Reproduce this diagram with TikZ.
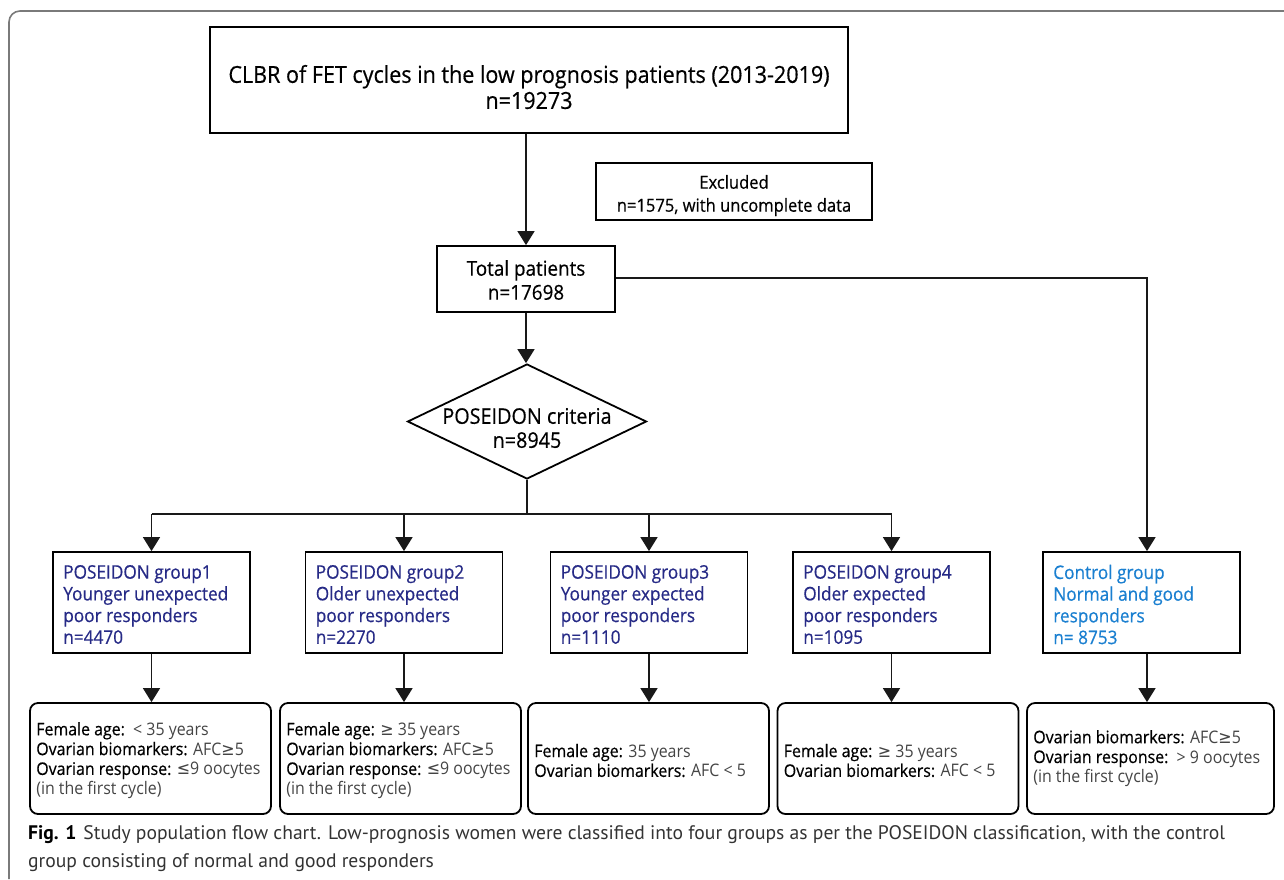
\documentclass[tikz,border=0pt]{standalone}
\usepackage{fontspec}
\setmainfont{Open Sans}[FakeStretch=0.92,FakeBold=0.5]
\newfontfamily\lightf{Open Sans}[FakeStretch=0.92]
\newfontfamily\capfont{PT Sans}
\newfontfamily\symf{DejaVu Sans}[FakeStretch=0.92]
\usetikzlibrary{arrows.meta,shapes.geometric}
\definecolor{navy}{HTML}{262A86}
\definecolor{ctrlblue}{HTML}{1A7FD0}
\definecolor{valgray}{HTML}{444444}
\definecolor{framegray}{HTML}{7A7A7A}
\definecolor{capgray}{HTML}{333333}
\newcommand\valtxt[1]{{\lightf\color{valgray}#1}}
\newcommand\gesym{{\symf ≥}}
\newcommand\lesym{{\symf ≤}}
\begin{document}
\begin{tikzpicture}[x=1pt,y=-1pt,
  box/.style={draw, line width=1.8pt, inner sep=0pt},
  gbox/.style={box, minimum width=197pt, minimum height=101pt},
  rbox/.style={box, rounded corners=8pt, minimum width=241pt, minimum height=111pt},
  conn/.style={line width=1.5pt, color=black!90},
  arr/.style={conn, -{Triangle[width=17pt,length=14pt]}},
  ttext/.style={inner sep=0pt, align=center, font=\fontsize{23.4}{26}\selectfont},
  mtext/.style={inner sep=0pt, align=center, font=\fontsize{20.5}{24}\selectfont},
  gtext/.style={inner sep=0pt, align=left, anchor=west, font=\fontsize{18.7}{21.7}\selectfont},
  btext/.style={inner sep=0pt, align=left, anchor=west, font=\fontsize{17.3}{19.8}\selectfont},
  captext/.style={inner sep=0pt, anchor=base west, text=capgray, font=\capfont\fontsize{19.6}{28}\selectfont}
]
\useasboundingbox (0,0) rectangle (1284,879);
% outer frame
\draw[framegray, line width=1.6pt, rounded corners=11pt] (9,879) -- (9,11) -- (1284,11);

% top box
\node[box, minimum width=638pt, minimum height=106pt] (top) at (529,80) {};
\node[ttext] (toptxt) at (529,87) {CLBR of FET cycles in the low prognosis patients (2013-2019)\\n=19273};

% excluded box
\node[box, minimum width=276pt, minimum height=57pt] (excl) at (734,191.5) {};
\node[mtext, font=\fontsize{18}{23}\selectfont] (excltxt) at (734,195.5) {Excluded\\n=1575, with uncomplete data};

% total patients
\node[box, minimum width=178pt, minimum height=66pt] (total) at (526,279) {};
\node[mtext] (totaltxt) at (526,280) {Total patients\\n=17698};

% diamond
\node[draw, diamond, line width=1.8pt, inner sep=0pt, minimum width=239pt, minimum height=115pt] (crit) at (527,421.5) {};
\node[mtext, font=\fontsize{21.5}{24}\selectfont] (crittxt) at (527,428) {POSEIDON criteria\\n=8945};

% group boxes
\node[gbox] (g1) at (151.5,602.5) {};
\node[gbox] (g2) at (404,602.5) {};
\node[gbox] (g3) at (649,602.5) {};
\node[gbox] (g4) at (891.5,602.5) {};
\node[gbox] (g5) at (1141.5,602.5) {};
\node[gtext, text=navy] (g1t) at ([xshift=11pt,yshift=-2pt]g1.west) {POSEIDON group1\\Younger unexpected\\poor responders\\n=4470};
\node[gtext, text=navy] (g2t) at ([xshift=11pt,yshift=-2pt]g2.west) {POSEIDON group2\\Older unexpected\\poor responders\\n=2270};
\node[gtext, text=navy] (g3t) at ([xshift=11pt,yshift=-2pt]g3.west) {POSEIDON group3\\Younger expected\\poor responders\\n=1110};
\node[gtext, text=navy] (g4t) at ([xshift=11pt,yshift=-2pt]g4.west) {POSEIDON group4\\Older expected\\poor responders\\n=1095};
\node[gtext, text=ctrlblue] (g5t) at ([xshift=11pt,yshift=-2pt]g5.west) {Control group\\Normal and good\\responders\\n= 8753};

% bottom criteria boxes
\node[rbox] (c1) at (150.5,758.5) {};
\node[rbox] (c2) at (400.5,758.5) {};
\node[rbox] (c3) at (648.5,758.5) {};
\node[rbox] (c4) at (898,758.5) {};
\node[rbox, minimum width=247pt] (c5) at (1150.5,758.5) {};
\node[btext] (c1t) at ([xshift=7pt,yshift=-2pt]c1.west) {Female age:\ \ \valtxt{< 35 years}\\Ovarian biomarkers: \valtxt{AFC\gesym5}\\Ovarian response: \valtxt{\lesym9 oocytes}\\\valtxt{(in the first cycle)}};
\node[btext] (c2t) at ([xshift=7pt,yshift=-2pt]c2.west) {Female age: \valtxt{\gesym\ 35 years}\\Ovarian biomarkers: \valtxt{AFC\gesym5}\\Ovarian response: \valtxt{\lesym9 oocytes}\\\valtxt{(in the first cycle)}};
\node[btext] (c3t) at ([xshift=7pt,yshift=-2pt]c3.west) {Female age: \valtxt{35 years}\\Ovarian biomarkers: \valtxt{AFC < 5}};
\node[btext] (c4t) at ([xshift=7pt,yshift=-2pt]c4.west) {Female age: \valtxt{\gesym\ 35 years}\\Ovarian biomarkers: \valtxt{AFC < 5}};
\node[btext] (c5t) at ([xshift=7pt,yshift=0pt]c5.west) {Ovarian biomarkers: \valtxt{AFC\gesym5}\\Ovarian response:\ \ \valtxt{> 9 oocytes}\\\valtxt{(in the first cycle)}};

% connectors
\draw[arr] (top.south -| total.north) -- (total.north);
\draw[arr] (total.south) -- (total.south |- crit.north);
\coordinate (bus) at (527,514);
\coordinate (cj) at (1147,278);
\draw[conn] (crit.south) -- (bus);
\draw[conn] (bus -| g1.north) -- (bus -| g4.north);
\draw[arr] (bus -| g1.north) -- (g1.north);
\draw[arr] (bus -| g2.north) -- (g2.north);
\draw[arr] (bus -| g3.north) -- (g3.north);
\draw[arr] (bus -| g4.north) -- (g4.north);
\draw[arr] (total.east |- cj) -- (cj) -- (cj |- g5.north);
\draw[arr] (g1.south) -- (g1.south |- c1.north);
\draw[arr] (g2.south) -- (g2.south |- c2.north);
\draw[arr] (g3.south) -- (g3.south |- c3.north);
\draw[arr] (g4.south) -- (g4.south |- c4.north);
\draw[arr] (cj |- g5.south) -- (cj |- c5.north);

% caption
\node[captext] (cap1) at (28,839) {{\color{black}\bfseries Fig. 1}\hspace{7pt}Study population flow chart. Low-prognosis women were classified into four groups as per the POSEIDON classification, with the control};
\node[captext] (cap2) at (28,867) {group consisting of normal and good responders};
\end{tikzpicture}
\end{document}
